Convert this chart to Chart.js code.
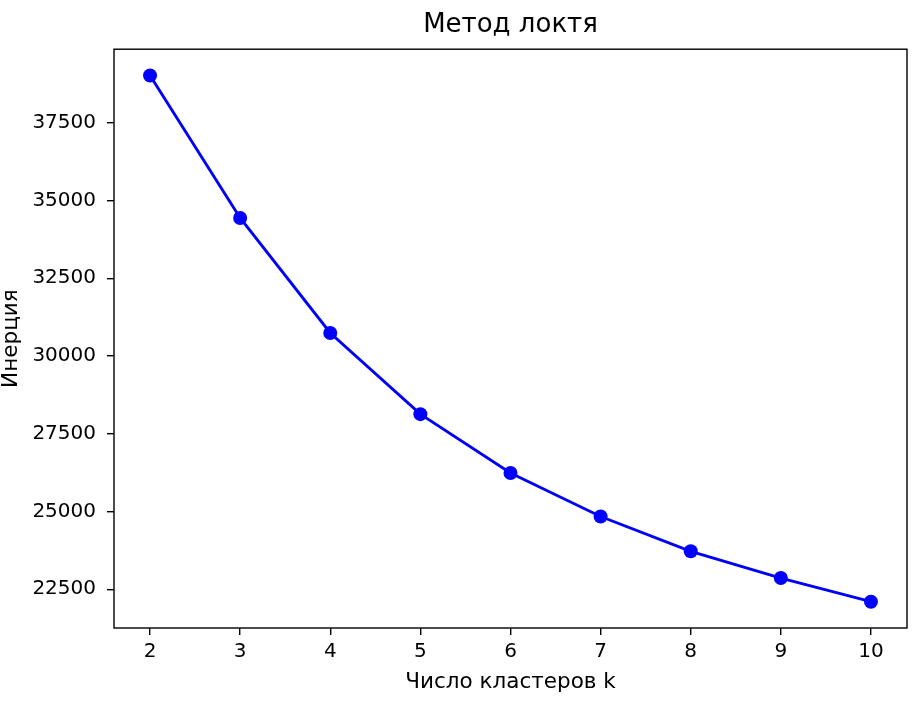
<!DOCTYPE html>
<html>
<head>
<meta charset="utf-8">
<script src="https://cdn.jsdelivr.net/npm/chart.js@4"></script>
<style>
  html, body { margin: 0; padding: 0; background: #fff; }
  #wrap { width: 922px; height: 719px; position: relative; }
</style>
</head>
<body>
<div id="wrap"><canvas id="elbow"></canvas></div>
<script>
// number of clusters and inertia
const clusters = [2, 3, 4, 5, 6, 7, 8, 9, 10];
const inertia = [39020, 34440, 30740, 28130, 26240, 24840, 23720, 22860, 22100];
const yTicks = [22500, 25000, 27500, 30000, 32500, 35000, 37500];

const titleText = 'Метод локтя';
const xLabel = 'Число кластеров k';
const yLabel = 'Инерция';

const FONT = 'DejaVu Sans';

// matplotlib-like 5% margins around data
function padRange(values) {
  const lo = Math.min(...values);
  const hi = Math.max(...values);
  const m = (hi - lo) * 0.05;
  return [lo - m, hi + m];
}
const [xMin, xMax] = padRange(clusters);
const [yMin, yMax] = padRange(inertia);

const frame = {
  id: 'frame',
  afterDatasetsDraw(chart) {
    const { ctx, chartArea: a } = chart;
    ctx.save();
    ctx.strokeStyle = '#000';
    ctx.lineWidth = 1.4;
    ctx.strokeRect(a.left, a.top, a.right - a.left, a.bottom - a.top);
    ctx.restore();
  }
};

new Chart(document.getElementById('elbow'), {
  type: 'line',
  data: {
    datasets: [{
      data: clusters.map((k, i) => ({ x: k, y: inertia[i] })),
      borderColor: '#0000ff',
      backgroundColor: '#0000ff',
      borderWidth: 2.9,
      pointRadius: 7,
      pointBorderWidth: 0,
      pointBackgroundColor: '#0000ff',
      tension: 0,
      fill: false
    }]
  },
  options: {
    responsive: true,
    maintainAspectRatio: false,
    animation: false,
    layout: { padding: { left: 0, right: 15, top: 0, bottom: 0 } },
    plugins: {
      legend: { display: false },
      tooltip: { enabled: false },
      title: {
        display: true,
        text: titleText,
        fullSize: false,
        color: '#000',
        font: { family: FONT, size: 26, weight: 'normal', lineHeight: 1.2 },
        padding: { top: 10, bottom: 8 }
      }
    },
    scales: {
      x: {
        type: 'linear',
        min: xMin,
        max: xMax,
        afterBuildTicks: s => { s.ticks = clusters.map(v => ({ value: v })); },
        afterFit: s => { s.height = 91; },
        border: { display: false },
        grid: { drawOnChartArea: false, drawTicks: true, tickLength: 7, color: '#000', lineWidth: 1.4 },
        ticks: { color: '#000', padding: 5, font: { family: FONT, size: 20 }, maxRotation: 0 },
        title: {
          display: true,
          text: xLabel,
          color: '#000',
          font: { family: FONT, size: 21.5, lineHeight: 1.2 },
          padding: { top: 0, bottom: 24 }
        }
      },
      y: {
        type: 'linear',
        min: yMin,
        max: yMax,
        afterBuildTicks: s => { s.ticks = yTicks.map(v => ({ value: v })); },
        afterFit: s => { s.width = 114; },
        border: { display: false },
        grid: { drawOnChartArea: false, drawTicks: true, tickLength: 7, color: '#000', lineWidth: 1.4 },
        ticks: { color: '#000', padding: 11, font: { family: FONT, size: 20 }, callback: v => String(v) },
        title: {
          display: true,
          text: yLabel,
          color: '#000',
          font: { family: FONT, size: 21.5, lineHeight: 1 },
          padding: { top: 1, bottom: 0 }
        }
      }
    }
  },
  plugins: [frame]
});
</script>
</body>
</html>
